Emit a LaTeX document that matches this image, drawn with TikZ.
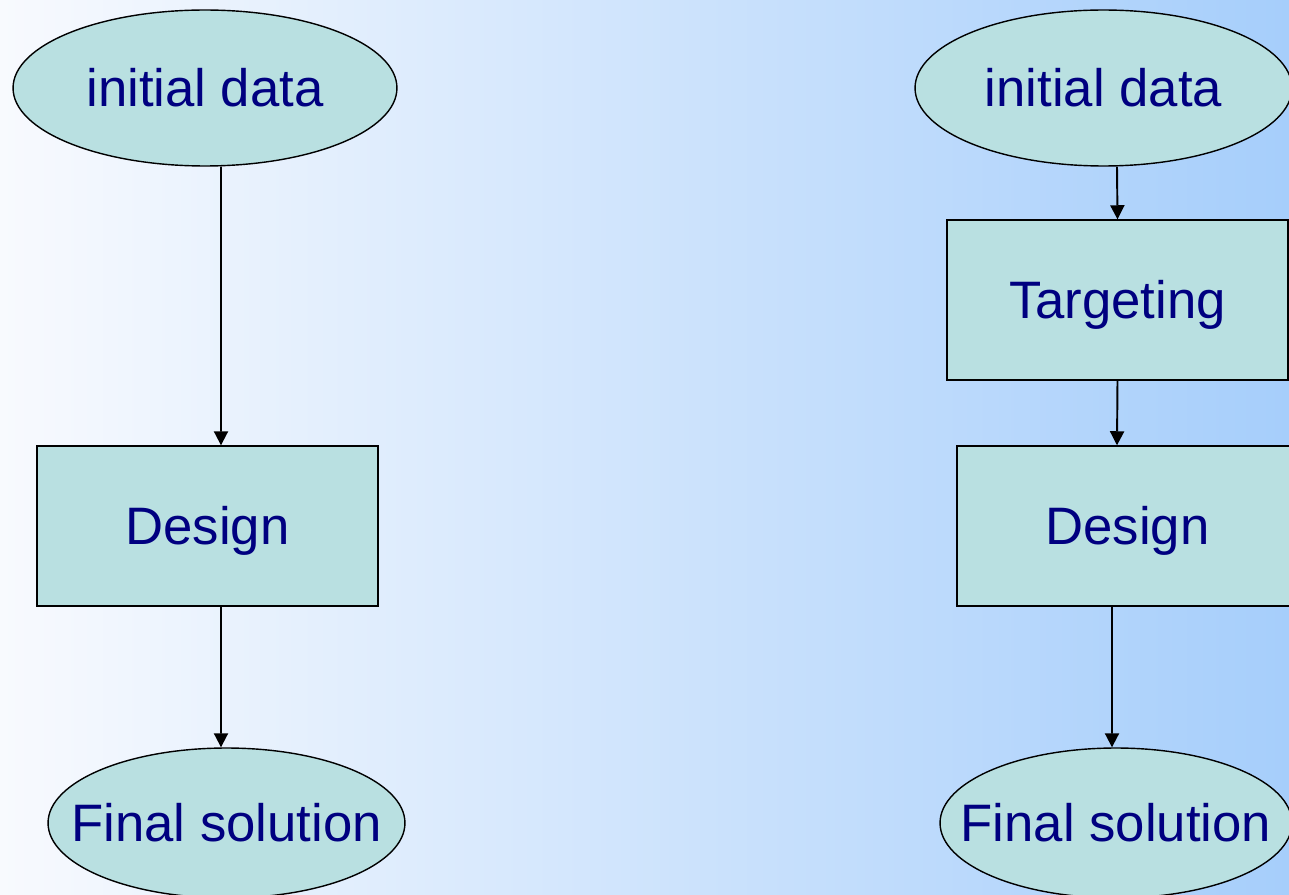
\documentclass[tikz,border=0pt]{standalone}
\usepackage{fontspec}
\setmainfont{Liberation Sans}
\usetikzlibrary{arrows.meta, positioning, shapes.geometric}
\definecolor{bgleft}{RGB}{248,250,254}
\definecolor{bgmid}{RGB}{214,231,251}
\definecolor{bgright}{RGB}{166,206,251}
\definecolor{boxfill}{RGB}{185,224,225}
\definecolor{navytext}{RGB}{0,0,128}

\begin{document}
\begin{tikzpicture}[x=0.02cm,y=-0.02cm,
  ell/.style={ellipse,draw,fill=boxfill,line width=0.8pt,text=navytext,
              font=\fontsize{30}{36}\selectfont,inner xsep=-0.7cm,inner ysep=0pt,
              text height=27pt,text depth=6.5pt},
  box/.style={rectangle,draw,fill=boxfill,line width=0.8pt,text=navytext,
              font=\fontsize{30}{36}\selectfont,minimum width=6.82cm,
              minimum height=3.2cm,inner sep=0pt,text height=27pt,text depth=6.5pt},
  arr/.style={-{Triangle[length=8pt,width=8pt]},line width=1.1pt}
]
% background
\shade[left color=bgleft,middle color=bgmid,right color=bgright]
  (0,0) rectangle (1289,895);
\useasboundingbox (0,0) rectangle (1289,895);

% left chain
\node[ell,minimum width=7.68cm,minimum height=3.12cm] (init1) at (205,88) {initial data};
\node[box] (design1) at (207.5,526) {Design};
\node[ell,minimum width=7.14cm,minimum height=3.0cm] (final1) at (226.5,823) {Final solution};

\draw[arr] ([xshift=0.32cm]init1.south) -- ([xshift=0.27cm]design1.north);
\draw[arr] ([xshift=0.27cm]design1.south) -- ([xshift=-0.11cm]final1.north);

% right chain
\node[ell,minimum width=7.54cm,minimum height=3.12cm] (init2) at (1103.5,88) {initial data};
\node[box] (target2) at (1117.5,300) {Targeting};
\node[box] (design2) at (1127.5,526) {Design};
\node[ell,minimum width=7.04cm,minimum height=3.0cm] (final2) at (1116,823) {Final solution};

\draw[arr] ([xshift=0.27cm]init2.south) -- (target2.north);
\draw[arr] (target2.south) -- ([xshift=-0.21cm]design2.north);
\draw[arr] ([xshift=-0.31cm]design2.south) -- ([xshift=-0.08cm]final2.north);
\end{tikzpicture}
\end{document}
